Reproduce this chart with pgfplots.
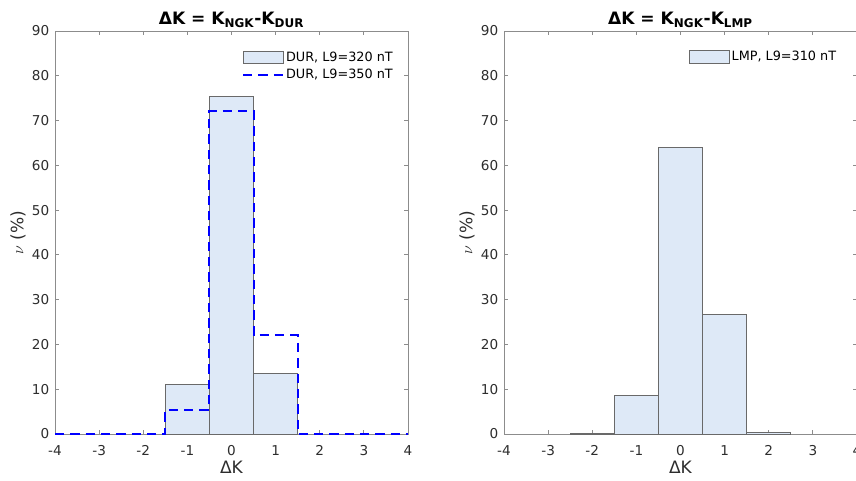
\documentclass[border=0pt]{standalone}
\usepackage{fontspec}
\setmainfont{DejaVu Sans}
\usepackage{pgfplots}
\pgfplotsset{compat=1.18}
\definecolor{barfill}{RGB}{222,233,247}
\definecolor{baredge}{RGB}{105,105,105}
\definecolor{axgray}{RGB}{140,140,140}
\definecolor{txtgray}{RGB}{45,45,45}
\pgfplotsset{
  myaxis/.style={
    scale only axis, width=264.75pt, height=302.25pt,
    anchor=south west,
    xmin=-4, xmax=4, ymin=0, ymax=90,
    xtick={-4,-3,-2,-1,0,1,2,3,4},
    ytick={0,10,20,30,40,50,60,70,80,90},
    /pgf/number format/assume math mode=true,
    tick label style={font=\fontsize{10.2}{12}\selectfont, text=txtgray},
    xticklabel style={anchor=base, yshift=-15.75pt},
    yticklabel style={anchor=east, xshift=-0.8pt},
    axis line style={draw=axgray, line width=0.6pt},
    tick style={draw=axgray, line width=0.6pt},
    major tick length=3pt,
    tick align=inside,
    every axis title/.style={at={(axis description cs:0.5,1.016)}, anchor=base, font=\fontsize{12.8}{15}\selectfont\bfseries, text=black},
    every axis x label/.style={at={(axis description cs:0.5,-0.0968)}, anchor=base, font=\fontsize{12.8}{15}\selectfont, text=txtgray},
    every axis y label/.style={at={(axis description cs:-0.1048,0.5)}, anchor=center, rotate=90, font=\fontsize{12.8}{15}\selectfont, text=txtgray},
    xlabel={ΔK},
    ylabel={$\nu$ (\%)},
    legend cell align=left,
    legend style={draw=none, fill=none, font=\fontsize{9.6}{11.5}\selectfont, text=black,
      row sep=1.2pt, inner sep=0pt, outer sep=0pt, anchor=north west,
      nodes={inner sep=1.5pt}},
    clip=false,
  },
  patchlegend/.style={legend image code/.code={\draw[fill=barfill, draw=baredge, line width=0.5pt] (0pt,-4.6pt) rectangle (30pt,4.6pt);}},
}
\begin{document}
\begin{tikzpicture}
\begin{axis}[myaxis, at={(41.25pt,34.5pt)},
  title={ΔK = K\textsubscript{NGK}-K\textsubscript{DUR}},
  legend style={at={(axis description cs:0.530,0.953)}}]
\addplot[ybar interval, fill=barfill, draw=baredge, line width=0.5pt, patchlegend]
  coordinates {(-1.5,11.0) (-0.5,75.3) (0.5,13.5) (1.5,13.5)};
\addlegendentry{DUR, L9=320 nT}
\addplot[const plot, blue, line width=1.5pt, dash pattern=on 7pt off 4.5pt,
  legend image code/.code={\draw[blue, line width=1.5pt, dash pattern=on 7pt off 4.5pt] (0pt,0pt) -- (30pt,0pt);}]
  coordinates {(-4,0) (-1.5,5.4) (-0.5,72.1) (0.5,22.1) (1.5,0) (4,0)};
\addlegendentry{DUR, L9=350 nT}
\end{axis}
\begin{axis}[myaxis, at={(378pt,34.5pt)},
  title={ΔK = K\textsubscript{NGK}-K\textsubscript{LMP}},
  legend style={at={(axis description cs:0.524,0.955)}}]
\addplot[ybar interval, fill=barfill, draw=baredge, line width=0.5pt, patchlegend]
  coordinates {(-2.5,0.2) (-1.5,8.55) (-0.5,64.0) (0.5,26.8) (1.5,0.4) (2.5,0.4)};
\addlegendentry{LMP, L9=310 nT}
\end{axis}
\pgfresetboundingbox
\useasboundingbox (0,0) rectangle (642pt,360pt);
\end{tikzpicture}
\end{document}
